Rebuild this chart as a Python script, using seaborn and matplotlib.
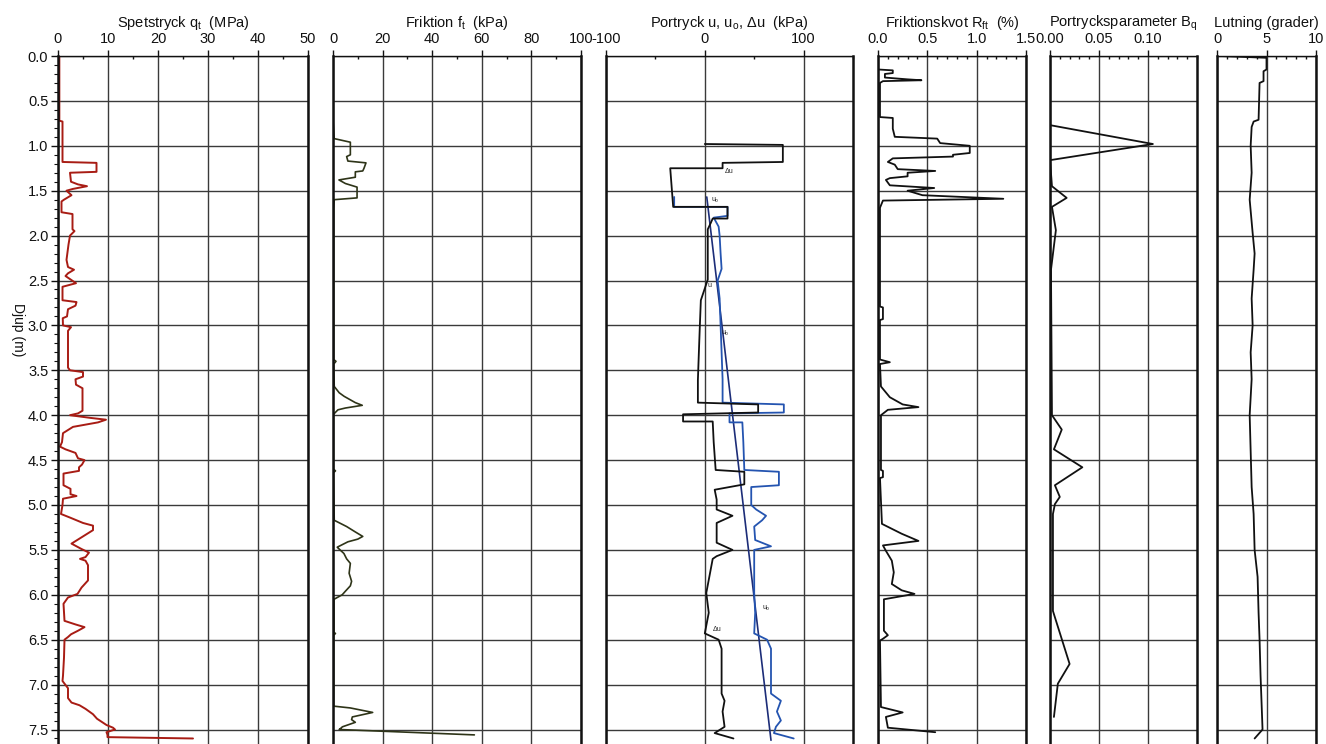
import numpy as np
import pandas as pd
import matplotlib
matplotlib.use("Agg")
import matplotlib.pyplot as plt
from matplotlib.ticker import MultipleLocator, FixedLocator, FormatStrFormatter
import seaborn as sns

# ---------------- data ----------------
qt_depth = [0.00, 0.72, 0.73, 1.18, 1.19, 1.29, 1.30, 1.40, 1.43, 1.45, 1.48, 1.50, 1.55, 1.60,
            1.62, 1.74, 1.76, 1.93, 1.95, 2.00, 2.10, 2.27, 2.35, 2.38, 2.42, 2.45, 2.53, 2.57,
            2.72, 2.74, 2.78, 2.82, 2.90, 2.92, 3.00, 3.02, 3.06, 3.47, 3.50, 3.52, 3.57, 3.60,
            3.66, 3.70, 3.95, 3.98, 4.00, 4.03, 4.05, 4.08, 4.10, 4.13, 4.20, 4.30, 4.35, 4.38,
            4.42, 4.48, 4.50, 4.55, 4.58, 4.62, 4.65, 4.78, 4.82, 4.88, 4.90, 4.93, 5.00, 5.10,
            5.14, 5.20, 5.23, 5.28, 5.43, 5.49, 5.53, 5.58, 5.60, 5.62, 5.67, 5.84, 5.92, 5.99,
            6.03, 6.10, 6.29, 6.33, 6.36, 6.40, 6.44, 6.47, 6.50, 6.70, 6.90, 6.96, 7.04, 7.15,
            7.20, 7.23, 7.27, 7.33, 7.38, 7.45, 7.48, 7.50, 7.53, 7.56, 7.585, 7.60]
qt_vals = [0.27, 0.27, 0.9, 0.9, 7.7, 7.7, 2.4, 2.6, 4.0, 5.8, 3.0, 1.7, 2.7, 1.2,
           0.7, 0.7, 2.9, 2.9, 3.3, 2.4, 2.1, 1.7, 2.0, 3.2, 2.0, 1.5, 3.6, 0.9,
           0.9, 3.7, 3.5, 2.0, 1.8, 0.95, 1.0, 2.6, 2.0, 2.0, 2.4, 5.0, 5.0, 3.5,
           3.6, 4.9, 4.9, 4.0, 2.4, 6.5, 9.6, 8.0, 6.0, 3.0, 1.0, 0.8, 0.4, 1.5,
           3.5, 4.0, 5.3, 4.8, 4.2, 4.2, 1.1, 1.1, 2.5, 2.5, 3.7, 1.0, 0.9, 0.6,
           2.4, 5.0, 7.0, 7.0, 2.7, 4.7, 6.2, 5.5, 4.4, 5.5, 6.0, 6.0, 4.7, 3.9,
           2.0, 1.1, 1.3, 3.5, 5.3, 4.0, 2.6, 2.0, 1.3, 1.2, 1.0, 0.9, 2.0, 2.0,
           2.7, 4.3, 5.5, 7.0, 7.8, 9.7, 11.0, 11.4, 9.7, 9.9, 9.9, 27.0]

ft_depth = [0.71, 0.92, 0.96, 1.10, 1.12, 1.17, 1.19, 1.25, 1.28, 1.29, 1.35, 1.38, 1.42, 1.46,
            1.58, 1.60, 1.70, 3.38, 3.40, 3.43, 3.68, 3.75, 3.79, 3.86, 3.89, 3.92, 3.94, 3.99,
            4.60, 4.62, 4.64, 5.17, 5.24, 5.30, 5.35, 5.38, 5.41, 5.47, 5.54, 5.60, 5.65, 5.76,
            5.85, 5.90, 5.96, 6.00, 6.05, 6.42, 6.43, 6.45, 7.24, 7.26, 7.31, 7.36, 7.39, 7.42,
            7.47, 7.49, 7.50, 7.56]
ft_vals = [0.0, 0.5, 7.0, 7.0, 5.5, 6.0, 13.3, 12.5, 12.0, 9.0, 9.0, 2.4, 5.0, 9.7,
           9.7, 0.5, 0.3, 0.3, 1.2, 0.3, 0.5, 2.5, 4.5, 9.0, 11.8, 5.0, 2.0, 0.2,
           0.2, 1.0, 0.2, 0.5, 5.5, 9.0, 12.0, 10.0, 6.0, 1.7, 4.4, 5.5, 7.0, 6.5,
           7.5, 7.0, 5.0, 3.7, 0.4, 0.4, 1.0, 0.3, 0.3, 7.0, 16.0, 7.8, 7.5, 9.0,
           3.8, 3.0, 2.5, 57.0]

u_depth = [1.57, 1.68, 1.68, 1.78, 1.80, 1.90, 2.00, 2.20, 2.37, 2.50, 2.70, 3.00, 3.30, 3.60,
           3.86, 3.88, 3.97, 3.98, 4.08, 4.08, 4.30, 4.61, 4.63, 4.78, 4.80, 5.00, 5.05, 5.12,
           5.17, 5.24, 5.39, 5.46, 5.50, 5.98, 6.20, 6.43, 6.50, 6.60, 7.10, 7.18, 7.30, 7.40,
           7.47, 7.54, 7.60]
u_vals = [-31, -31, 23, 23, 9, 14, 15, 16, 17, 13, 15, 16, 17, 18,
          18, 80, 80, 25, 25, 38, 39, 40, 75, 75, 47, 47, 52, 62,
          58, 50, 51, 67, 50, 50, 51, 50, 63, 67, 67, 77, 73, 77,
          72, 70, 90]

du_depth = [0.98, 0.99, 1.18, 1.19, 1.25, 1.25, 1.68, 1.68, 1.81, 1.81, 1.86, 1.93, 2.37, 2.49,
            2.72, 3.00, 3.30, 3.61, 3.86, 3.88, 3.97, 3.99, 4.07, 4.07, 4.30, 4.61, 4.63, 4.77,
            4.83, 4.94, 5.05, 5.12, 5.20, 5.42, 5.50, 5.57, 5.60, 5.98, 6.20, 6.43, 6.50, 6.60,
            7.10, 7.18, 7.30, 7.47, 7.54, 7.60]
du_vals = [0, 79, 79, 18, 18, -35, -32, 23, 23, 8, 6, 3, 3, 3,
           -4, -5, -6, -7, -7, 54, 54, -22, -22, 8, 9, 11, 40, 40,
           10, 12, 12, 28, 12, 12, 28, 12, 8, 1.5, 4, 0, 14, 17,
           17, 20, 18, 20, 10, 29]

u0_depth = [1.57, 7.62]
u0_vals = [2, 67]

rf_depth = [0.15, 0.16, 0.19, 0.20, 0.24, 0.26, 0.27, 0.28, 0.30, 0.68, 0.69, 0.81, 0.90, 0.92,
            0.97, 1.00, 1.08, 1.10, 1.12, 1.14, 1.18, 1.21, 1.26, 1.28, 1.30, 1.34, 1.36, 1.38,
            1.44, 1.47, 1.50, 1.55, 1.59, 1.61, 1.69, 2.79, 2.80, 2.93, 2.94, 3.38, 3.41, 3.43,
            3.68, 3.80, 3.88, 3.91, 3.94, 4.00, 4.61, 4.62, 4.69, 4.70, 5.21, 5.32, 5.40, 5.45,
            5.51, 5.62, 5.75, 5.88, 5.95, 5.99, 6.05, 6.40, 6.45, 6.49, 6.51, 7.25, 7.31, 7.36,
            7.48, 7.53]
rf_vals = [0.0, 0.15, 0.15, 0.07, 0.07, 0.30, 0.44, 0.05, 0.02, 0.02, 0.15, 0.15, 0.17, 0.60,
           0.63, 0.93, 0.93, 0.76, 0.76, 0.15, 0.10, 0.17, 0.20, 0.58, 0.30, 0.30, 0.12, 0.08,
           0.12, 0.57, 0.30, 0.45, 1.27, 0.05, 0.02, 0.02, 0.05, 0.05, 0.02, 0.02, 0.12, 0.02,
           0.03, 0.12, 0.25, 0.41, 0.10, 0.03, 0.03, 0.05, 0.05, 0.02, 0.04, 0.24, 0.41, 0.05,
           0.08, 0.14, 0.16, 0.14, 0.24, 0.37, 0.06, 0.06, 0.10, 0.05, 0.02, 0.03, 0.25, 0.08,
           0.10, 0.58]

bq_depth = [0.77, 0.98, 1.16, 1.45, 1.58, 1.68, 1.94, 2.38, 4.00, 4.16, 4.38, 4.58, 4.78, 4.91,
            4.99, 5.10, 6.18, 6.25, 6.77, 6.99, 7.36]
bq_vals = [0.0, 0.105, 0.0, 0.002, 0.017, 0.002, 0.006, 0.001, 0.002, 0.012, 0.004, 0.033, 0.005,
           0.010, 0.005, 0.003, 0.003, 0.005, 0.020, 0.008, 0.004]

inc_depth = [0.00, 0.02, 0.15, 0.17, 0.28, 0.30, 0.71, 0.73, 0.79, 1.00, 1.30, 1.60, 1.97, 2.20,
             2.38, 2.70, 3.00, 3.30, 3.60, 4.00, 4.40, 4.80, 5.10, 5.50, 5.80, 6.20, 6.50, 6.90,
             7.20, 7.50, 7.60]
inc_vals = [0.3, 5.0, 5.0, 4.7, 4.7, 4.3, 4.2, 3.7, 3.5, 3.4, 3.5, 3.3, 3.6, 3.8,
            3.7, 3.5, 3.6, 3.4, 3.5, 3.3, 3.4, 3.5, 3.7, 3.8, 4.1, 4.2, 4.3, 4.4,
            4.5, 4.6, 3.8]

titles = ["Spetstryck q$_\\mathregular{t}$  (MPa)",
          "Friktion f$_\\mathregular{t}$  (kPa)",
          "Portryck u, u$_\\mathregular{o}$, \u0394u  (kPa)",
          "Friktionskvot R$_\\mathregular{ft}$  (%)",
          "Portrycksparameter B$_\\mathregular{q}$",
          "Lutning (grader)"]
ylabel_text = "Djup (m)"

# ---------------- style ----------------
sns.set_style("white")
plt.rcParams["font.family"] = ["Liberation Sans", "DejaVu Sans"]
plt.rcParams["axes.unicode_minus"] = False
plt.rcParams["mathtext.default"] = "regular"

W, H = 1326, 744
fig = plt.figure(figsize=(W / 100, H / 100), dpi=100)

panels_px = [(58, 308), (333, 581), (606, 853), (878, 1026), (1050, 1197), (1217, 1316)]
top_px = 56
ymax = (H - top_px) / 89.8

xlims = [(0, 50), (0, 100), (-100, 150), (0, 1.5), (0, 0.15), (0, 10)]
majors = [[0, 10, 20, 30, 40, 50], [0, 20, 40, 60, 80, 100], [-100, 0, 100],
          [0, 0.5, 1.0, 1.5], [0, 0.05, 0.10], [0, 5, 10]]
minors = [5, 10, 50, 0.1, 0.01, 1]
fmts = ["%d", "%d", "%d", "%.1f", "%.2f", "%d"]

axes = []
for i, (l, r) in enumerate(panels_px):
    ax = fig.add_axes([l / W, 0, (r - l) / W, (H - top_px) / H])
    axes.append(ax)
    ax.set_xlim(*xlims[i])
    ax.set_ylim(ymax, 0)
    ax.xaxis.tick_top()
    ax.xaxis.set_label_position("top")
    ax.xaxis.set_major_locator(FixedLocator(majors[i]))
    ax.xaxis.set_major_formatter(FormatStrFormatter(fmts[i]))
    ax.xaxis.set_minor_locator(MultipleLocator(minors[i]))
    ax.tick_params(axis="x", which="major", top=True, bottom=False, direction="out",
                   length=4, width=1.0, pad=3, labelsize=10.5, colors="#111")
    ax.tick_params(axis="x", which="minor", top=True, bottom=False, direction="in",
                   length=2.5, width=1.0, colors="#111")
    ax.set_yticks(np.arange(0, 7.51, 0.5))
    ax.set_xlabel(titles[i], fontsize=10.5, labelpad=4, color="#111")
    ax.grid(True, which="major", color="#3a3a3a", lw=1.0)
    ax.set_axisbelow(True)
    for s in ["left", "right"]:
        ax.spines[s].set_linewidth(1.8)
        ax.spines[s].set_color("#111")
    ax.spines["top"].set_linewidth(1.0)
    ax.spines["top"].set_color("#111")
    ax.spines["bottom"].set_visible(False)
    if i == 0:
        ax.yaxis.set_major_formatter(FormatStrFormatter("%.1f"))
        ax.yaxis.set_minor_locator(MultipleLocator(0.1))
        ax.tick_params(axis="y", which="major", left=True, direction="out", length=5,
                       width=1.0, labelsize=10.5, pad=2, colors="#111")
        ax.tick_params(axis="y", which="minor", left=True, direction="out", length=3,
                       width=0.8, colors="#111")
    else:
        ax.tick_params(axis="y", which="both", left=False, labelleft=False, length=0)

kw = dict(estimator=None, sort=False, legend=False)
sns.lineplot(x=qt_vals, y=qt_depth, ax=axes[0], color="#a81c14", lw=1.4, **kw)
sns.lineplot(x=ft_vals, y=ft_depth, ax=axes[1], color="#2e3418", lw=1.2, **kw)
sns.lineplot(x=u0_vals, y=u0_depth, ax=axes[2], color="#1c2d78", lw=1.2, **kw)
sns.lineplot(x=u_vals, y=u_depth, ax=axes[2], color="#2454b0", lw=1.3, **kw)
sns.lineplot(x=du_vals, y=du_depth, ax=axes[2], color="#111111", lw=1.3, **kw)
sns.lineplot(x=rf_vals, y=rf_depth, ax=axes[3], color="#111111", lw=1.3, **kw)
sns.lineplot(x=bq_vals, y=bq_depth, ax=axes[4], color="#111111", lw=1.3, **kw)
sns.lineplot(x=inc_vals, y=inc_depth, ax=axes[5], color="#111111", lw=1.3, **kw)

# tiny curve labels in the pore-pressure panel
for txt, xv, yv in [("\u0394u", 20, 1.30), ("u$_o$", 6, 1.62), ("u$_o$", 16, 3.10),
                    ("u$_o$", 58, 6.17), ("\u0394u", 8, 6.40), ("u", 3, 2.57)]:
    axes[2].text(xv, yv, txt, fontsize=5, color="#222")

fig.text(18 / W, 1 - 330 / H, ylabel_text, rotation=270, ha="center", va="center",
         fontsize=10, color="#111")

fig.savefig("out.png", dpi=100)
